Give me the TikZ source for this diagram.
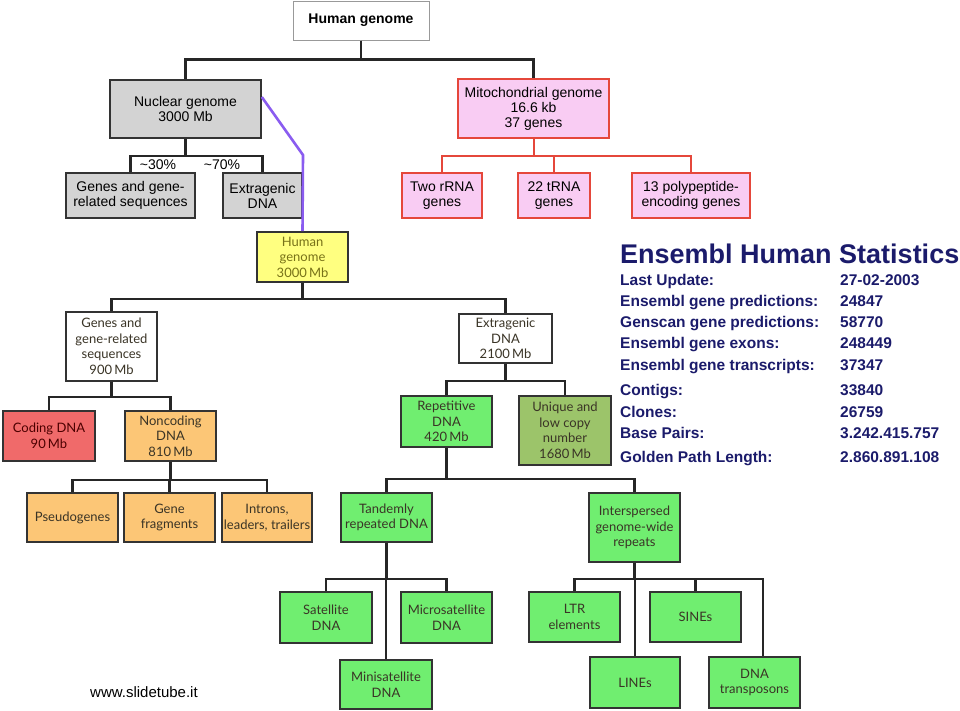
\documentclass[tikz,border=0pt]{standalone}
\usepackage{fontspec}
\setmainfont{Liberation Sans}
\newfontfamily\gill{Lato}
\usetikzlibrary{positioning}

\definecolor{grayfill}{HTML}{D3D3D3}
\definecolor{pinkfill}{HTML}{F9CCF3}
\definecolor{redline}{HTML}{E5473B}
\definecolor{yellowfill}{HTML}{FFFF80}
\definecolor{codingfill}{HTML}{F06A6A}
\definecolor{orangefill}{HTML}{FCC676}
\definecolor{greenfill}{HTML}{70EE70}
\definecolor{olivefill}{HTML}{9CC46A}
\definecolor{navy}{HTML}{1B1B6B}
\definecolor{boxline}{HTML}{333333}
\definecolor{txtdark}{HTML}{3A3426}
\definecolor{purpleline}{HTML}{8A5CF0}

\tikzset{
  sz/.style 2 args={minimum width=#1pt, minimum height=#2pt},
  box/.style={draw=boxline, line width=1.6pt, inner sep=0pt, align=center},
  upper/.style={box, font=\fontsize{14}{15}\selectfont},
  lower/.style={box, font=\gill\fontsize{13}{15.5}\selectfont, text=txtdark},
  conn/.style={draw=black!85, line width=2.2pt},
  mconn/.style={draw=redline, line width=2pt},
  stat/.style={anchor=base west, inner sep=0pt, text=navy, font=\bfseries\fontsize{15.5}{17}\selectfont},
}

\begin{document}
\begin{tikzpicture}[x=1pt, y=-1pt]
\useasboundingbox[fill=white] (0,0) rectangle (960,710);

% first level
\node[box, draw=black!40, line width=1pt, sz={136}{39}, font=\bfseries\fontsize{14}{15}\selectfont] (hg) at (361,20.5) {Human genome};
\node[upper, fill=grayfill, sz={151}{58}] (nuc) at (185.5,109) {Nuclear genome\\3000 Mb};
\node[upper, fill=grayfill, sz={129}{45}] (genes) at (130.5,195.5) {Genes and gene-\\related sequences};
\node[upper, fill=grayfill, sz={79}{45}] (extra) at (262.5,195.5) {Extragenic\\DNA};
\node[upper, fill=pinkfill, draw=redline, sz={151}{59}] (mito) at (533.5,108.5) {Mitochondrial genome\\16.6 kb\\37 genes};
\node[upper, fill=pinkfill, draw=redline, sz={80}{45}] (rrna) at (442,195.5) {Two rRNA\\genes};
\node[upper, fill=pinkfill, draw=redline, sz={72}{45}] (trna) at (554,195.5) {22 tRNA\\genes};
\node[upper, fill=pinkfill, draw=redline, sz={118}{45}] (poly) at (691,195.5) {13 polypeptide-\\encoding genes};

\node[font=\fontsize{14}{15}\selectfont, anchor=base] (p30) at (158,169) {\textasciitilde30\%};
\node[font=\fontsize{14}{15}\selectfont, anchor=base] (p70) at (222,169) {\textasciitilde70\%};

\foreach \c in {nuc,mito} \draw[conn] (hg.south) -- ++(0,19) -| (\c.north);
\foreach \c in {genes,extra} \draw[conn] (nuc.south) -- ++(0,17) -| (\c.north);
\foreach \c in {rrna,trna,poly} \draw[mconn] (mito.south) -- ++(0,17) -| (\c.north);

% second level
\node[lower, fill=yellowfill, text=olive!80!black, sz={91}{50}] (hgy) at (302.5,257) {Human\\genome\\3000\,Mb};
\node[lower, fill=white, sz={91}{69}] (gr) at (111.5,346.5) {Genes and\\gene-related\\sequences\\900\,Mb};
\node[lower, fill=codingfill, text=red!30!black, sz={92}{50}] (coding) at (49,436) {Coding DNA\\90\,Mb};
\node[lower, fill=orangefill, sz={91}{50}] (noncod) at (170.5,436) {Noncoding\\DNA\\810\,Mb};
\node[lower, fill=orangefill, sz={91}{49}] (pseudo) at (72.5,517.5) {Pseudogenes};
\node[lower, fill=orangefill, sz={91}{49}] (frag) at (169.5,517.5) {Gene\\fragments};
\node[lower, fill=orangefill, sz={90}{49}] (intron) at (267,517.5) {Introns,\\leaders, trailers};
\node[lower, fill=white, sz={93}{49}] (ext) at (505.5,338.5) {Extragenic\\DNA\\2100\,Mb};
\node[lower, fill=greenfill, sz={91}{51}] (repet) at (446.5,421.5) {Repetitive\\DNA\\420\,Mb};
\node[lower, fill=olivefill, sz={92}{69}] (unique) at (565,430.5) {Unique and\\low copy\\number\\1680\,Mb};
\node[lower, fill=greenfill, sz={91}{49}] (tandem) at (386.5,517.5) {Tandemly\\repeated DNA};
\node[lower, fill=greenfill, sz={91}{69}] (inter) at (634.5,527.5) {Interspersed\\genome-wide\\repeats};
\node[lower, fill=greenfill, sz={92}{51}] (sat) at (326,617.5) {Satellite\\DNA};
\node[lower, fill=greenfill, sz={91}{51}] (micro) at (446.5,617.5) {Microsatellite\\DNA};
\node[lower, fill=greenfill, sz={92}{49}] (mini) at (386,684.5) {Minisatellite\\DNA};
\node[lower, fill=greenfill, sz={91}{50}] (ltr) at (574.5,617) {LTR\\elements};
\node[lower, fill=greenfill, sz={91}{50}] (sines) at (695.5,617) {SINEs};
\node[lower, fill=greenfill, sz={90}{51}] (lines) at (635,682.5) {LINEs};
\node[lower, fill=greenfill, sz={91}{51}] (dnat) at (754.5,682.5) {DNA\\transposons};
\coordinate (dnatin) at ([xshift=8.5pt]dnat.north);

\foreach \c in {gr,ext} \draw[conn] (hgy.south) -- ++(0,16) -| (\c.north);
\foreach \c in {coding,noncod} \draw[conn] (gr.south) -- ++(0,15) -| (\c.north);
\foreach \c in {pseudo,frag,intron} \draw[conn] (noncod.south) -- ++(0,18) -| (\c.north);
\foreach \c in {repet,unique} \draw[conn] (ext.south) -- ++(0,17) -| (\c.north);
\foreach \c in {tandem,inter} \draw[conn] (repet.south) -- ++(0,31) -| (\c.north);
\foreach \c in {sat,micro,mini} \draw[conn] (tandem.south) -- ++(0,36) -| (\c.north);
\foreach \c in {ltr,sines,lines,dnatin} \draw[conn] (inter.south) -- ++(0,16) -| (\c);

% link between the two trees
\coordinate (bend) at (303,155);
\draw[purpleline, line width=2.6pt] ([yshift=12pt]nuc.east) -- (bend) -- (hgy.north);

% statistics
\node[stat, font=\bfseries\fontsize{27}{30}\selectfont] (title) at (620,263) {Ensembl Human Statistics};
\foreach \lab/\val/\y in {Last Update:/27-02-2003/285, Ensembl gene predictions:/24847/306,
  Genscan gene predictions:/58770/327, Ensembl gene exons:/248449/348,
  Ensembl gene transcripts:/37347/370, Contigs:/33840/395, Clones:/26759/417,
  Base Pairs:/3.242.415.757/438, Golden Path Length:/2.860.891.108/462}{
  \node[stat] at (620,\y) {\lab};
  \node[stat] at (840,\y) {\val};
}

\node[anchor=base west, inner sep=0pt, font=\fontsize{15}{17}\selectfont] (site) at (90,697) {www.slidetube.it};
\end{tikzpicture}
\end{document}
